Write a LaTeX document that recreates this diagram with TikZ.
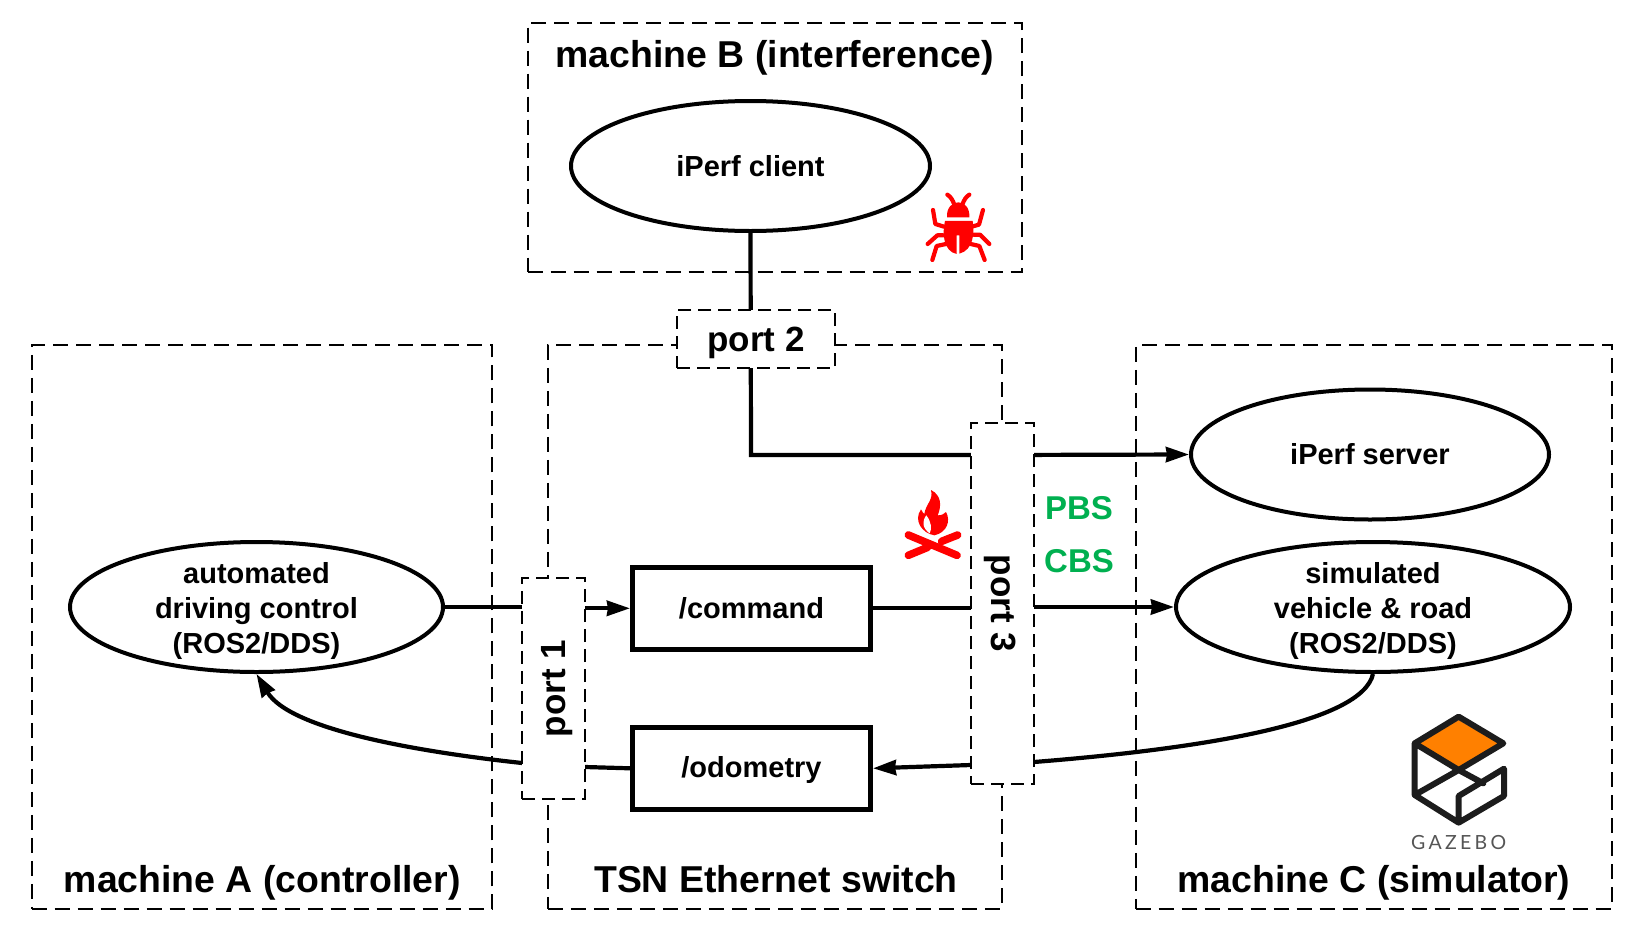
\documentclass[tikz,border=0pt]{standalone}
\usepackage{fontspec}
\setmainfont{Liberation Sans}
\newfontfamily\gzfont[LetterSpace=17]{Lato}
\usetikzlibrary{arrows.meta,shapes.geometric,positioning}
\definecolor{pbsgreen}{HTML}{00B050}
\definecolor{gzdark}{HTML}{1C1C1C}
\definecolor{gzorange}{HTML}{FF8000}
\newcommand{\lines}[1]{\raisebox{-11pt}[0pt][0pt]{\begin{tabular}{@{}c@{}}#1\end{tabular}}}
\tikzset{
  mbox/.style={draw=black,line width=2.1pt,dash pattern=on 15pt off 8pt,fill=none,outer sep=0pt},
  portbox/.style={draw=black,line width=2.1pt,dash pattern=on 13pt off 7pt,fill=white,inner sep=0pt,font=\fontsize{35}{40}\selectfont\bfseries},
  proc/.style={ellipse,draw=black,line width=4pt,fill=white,inner sep=0pt,align=center,font=\fontsize{29}{35}\selectfont\bfseries},
  topic/.style={rectangle,draw=black,line width=5pt,fill=white,inner sep=0pt,font=\fontsize{29}{35}\selectfont\bfseries},
  mlabel/.style={font=\fontsize{37.4}{42}\selectfont\bfseries,inner sep=0pt},
  link/.style={draw=black,line width=4.2pt},
  flow/.style={link,-{Stealth[length=23pt,width=15pt,inset=1pt]}},
  qlabel/.style={text=pbsgreen,font=\fontsize{33}{36}\selectfont\bfseries,inner sep=0pt},
}
\begin{document}
\begin{tikzpicture}[x=1pt,y=-1pt]
\useasboundingbox (0,0) rectangle (1644,932);
\fill[white] (0,0) rectangle (1644,932);

% machine frames
\node[mbox,minimum width=494.5pt,minimum height=248.5pt,anchor=north west] (frameB) at (527.6,23.2) {};
\node[mbox,minimum width=460.5pt,minimum height=564pt,anchor=north west] (frameA) at (31.7,344.8) {};
\node[mbox,minimum width=454pt,minimum height=564pt,anchor=north west] (frameS) at (547.8,344.8) {};
\node[mbox,minimum width=476pt,minimum height=564pt,anchor=north west] (frameC) at (1135.7,344.8) {};

\node[mlabel] (labB) at (775,58) {machine B (interference)};
\node[mlabel] (labA) at (262.3,883) {machine A (controller)};
\node[mlabel] (labS) at (776,879) {TSN Ethernet switch};
\node[mlabel] (labC) at (1374,883) {machine C (simulator)};

% processes
\node[proc,minimum width=359pt,minimum height=130pt] (client) at (750.5,166) {iPerf client};
\node[proc,minimum width=358pt,minimum height=130pt] (server) at (1370,454.5) {iPerf server};
\node[proc,minimum width=373pt,minimum height=130pt] (adc) at (256.5,607) {\lines{automated\\driving control\\(ROS2/DDS)}};
\node[proc,minimum width=394pt,minimum height=130pt] (sim) at (1373,607) {\lines{simulated\\vehicle \& road\\(ROS2/DDS)}};
\node[topic,minimum width=238pt,minimum height=82pt] (cmd) at (751.5,608.3) {/command};
\node[topic,minimum width=238pt,minimum height=82pt] (odo) at (751.5,768.3) {\raisebox{-9.5pt}[0pt][0pt]{/odometry}};

% port geometry
\coordinate (p2c) at (756,339);
\coordinate (p1c) at (553.5,688.5);
\coordinate (p3c) at (1002.5,603.5);

% connectors
\coordinate (bend) at (751,455);
\coordinate (p3i) at (1002,455);
\draw[link] (client.south) -- (bend) -- (p3i);
\draw[flow] (p3i) -- (server.west);
\draw[link] (adc.east) -- (p1c |- adc.east);
\draw[flow] (p1c |- cmd.west) -- (cmd.west);
\draw[link] (cmd.east) -- (p3c |- cmd.east);
\draw[flow] (p3c |- sim.west) -- (sim.west);
\coordinate (p3o) at (1034,762);
\coordinate (p3l) at (971,765);
\draw[link] (sim.south) .. controls (1362,722) and (1210,748) .. (p3o) -- (p3c |- p3o);
\draw[flow] (p3l) -- (odo.east);
\coordinate (p1o) at (585,767);
\coordinate (p1l) at (522,763);
\draw[link] (odo.west) -- (p1o);
\draw[flow] (p1l) .. controls (420,752) and (290,730) .. (adc.south);

% ports
\node[portbox,minimum width=158pt,minimum height=58pt] (port2) at (p2c) {\raisebox{-12.6pt}[0pt][0pt]{port 2}};
\node[portbox,minimum width=63pt,minimum height=221pt] (port1) at (p1c) {\rule{8pt}{0pt}\rotatebox{90}{port 1}};
\node[portbox,minimum width=63pt,minimum height=361pt] (port3) at (p3c) {\rotatebox{-90}{port 3}\rule{5pt}{0pt}};

\node[qlabel] (pbs) at (1079,508.5) {PBS};
\node[qlabel] (cbs) at (1079,561.5) {CBS};

% bug icon (zoom coordinates, 3x)
\begin{scope}[shift={(880,150)},x=0.3333pt,y=-0.3333pt]
  \fill[red] (201,202) .. controls (199,172) and (218,157) .. (235,157) .. controls (252,157) and (270,172) .. (268,202) -- cycle;
  \fill[red] (195,213) -- (278,213) .. controls (284,250) and (280,300) .. (238,311) -- (238,256) -- (230,256) -- (230,312) .. controls (190,304) and (186,250) .. (195,213) -- cycle;
  \draw[red,line width=4.2pt,line cap=round,line join=round,fill=none]
    (202,134) .. controls (212,140) and (218,150) .. (223,164)
    (268,134) .. controls (258,140) and (252,150) .. (247,164)
    (159,180) -- (166,222) -- (192,230)
    (309,180) -- (297,224) -- (275,230)
    (143,282) -- (172,256) -- (190,256)
    (328,282) -- (300,254) -- (280,254)
    (157,330) -- (170,288) -- (198,282)
    (314,330) -- (298,288) -- (272,282);
\end{scope}

% fire icon (zoom coordinates, 3x)
\begin{scope}[shift={(895,480)},x=0.3333pt,y=-0.3333pt]
  \fill[red] (108,30) .. controls (140,46) and (140,78) .. (128,106) .. controls (140,106) and (148,102) .. (153,96) .. controls (168,122) and (156,158) .. (118,166) .. controls (82,160) and (54,122) .. (78,88) .. controls (82,96) and (85,100) .. (88,102) .. controls (92,72) and (116,60) .. (108,30) -- cycle;
  \fill[white] (94,106) .. controls (80,124) and (82,144) .. (104,160) .. controls (112,146) and (108,124) .. (94,106) -- cycle;
  \draw[red,line width=7.6pt,line cap=round,fill=none]
    (40,165) -- (186,226)
    (40,226) -- (98,202)
    (140,184) -- (188,165);
\end{scope}

% Gazebo logo (zoom coordinates, 3x)
\begin{scope}[shift={(1380,690)},x=0.3333pt,y=-0.3333pt]
  \fill[gzorange] (118,160) -- (236,90) -- (355,160) -- (236,232) -- cycle;
  \draw[gzdark,line width=6pt,line join=round,line cap=round,fill=none]
    (104,160) -- (236,80) -- (370,160) -- (236,240) -- cycle
    (104,160) -- (104,315) -- (236,398) -- (372,318) -- (372,236) -- (236,318) -- (236,398)
    (104,315) -- (236,240) -- (310,280);
  \node[text=gzdark!75,font=\gzfont\fontsize{19.5}{22}\selectfont,inner sep=0pt] (gz) at (236,458) {GAZEBO};
\end{scope}
\end{tikzpicture}
\end{document}
